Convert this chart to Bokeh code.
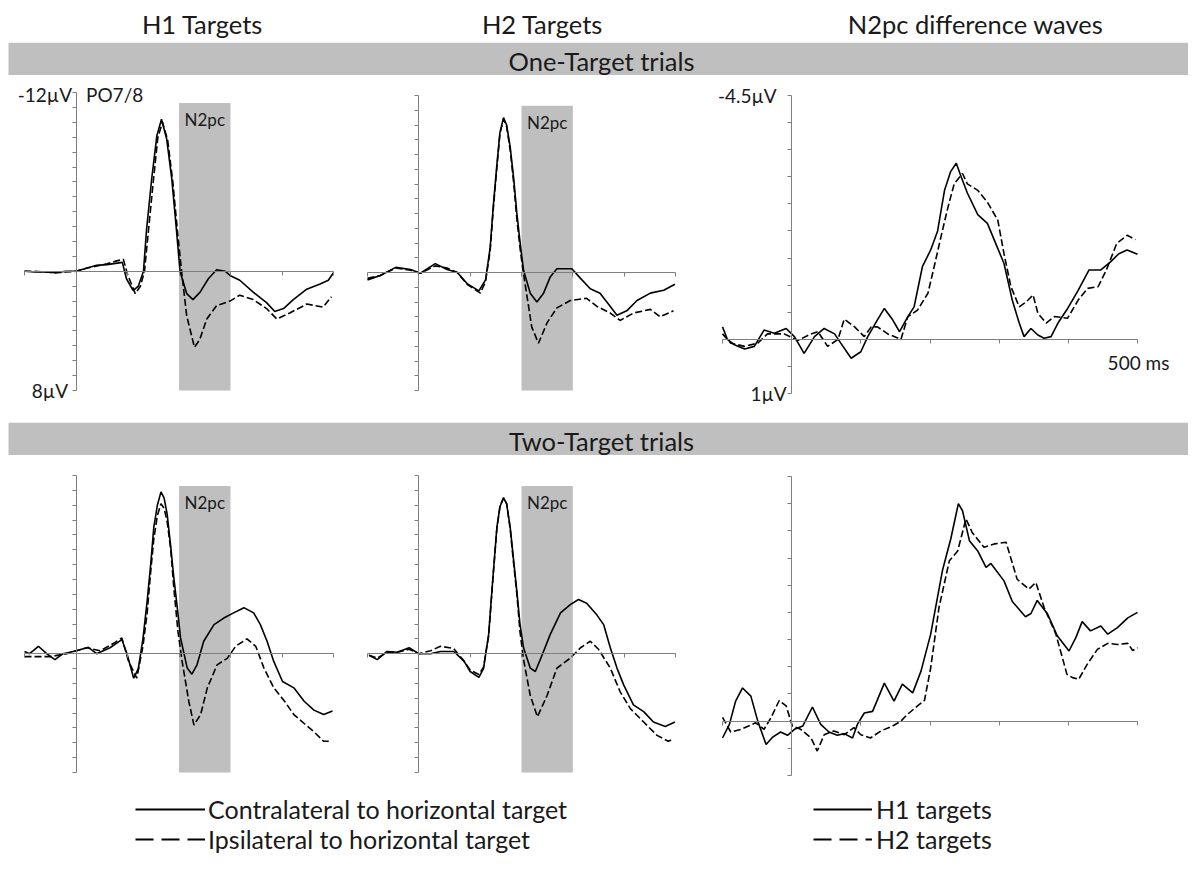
from bokeh.plotting import figure
from bokeh.layouts import column, row
from bokeh.models import Range1d, FixedTicker, Label, Legend, LegendItem
from bokeh.embed import file_html
from bokeh.resources import INLINE
from bokeh.core.properties import value

FONT = "Lato"
SHADE = "#BFBFBF"
AXIS = "#7F7F7F"
TXT = "#1A1A1A"
NAN = float("nan")

col_titles = ["H1 Targets", "H2 Targets", "N2pc difference waves"]
row_titles = ["One-Target trials", "Two-Target trials"]
legend_erp = ["Contralateral to horizontal target", "Ipsilateral to horizontal target"]
legend_diff = ["H1 targets", "H2 targets"]

time_limits = (-100, 500)
x_ticks = [-100, 0, 100, 200, 300, 400, 500]
erp_limits = (-12, 8)
erp_yticks = list(range(-12, 9))
diff_limits = (-4.5, 1)
diff_yticks = [-4.5, -4.0, -3.5, -3.0, -2.5, -2.0, -1.5, -1.0, -0.5, 0.0, 0.5, 1.0]
n2pc_window = [200, 300]
n2pc_extent = [-11.3, 8]

# ---- One-target, H1 targets (PO7/8) ----
t_h1_one_contra = [-100,-80,-60,-40,-20,0,20,40,60,80,90,98,111,121,131,137,147,157,166,176,186,195,202,215,227,241,257,273,290,300,318,344,370,386,403,422,448,474,490,500]
v_h1_one_contra = [0.0,0.05,0.05,0.1,0.0,0.0,-0.2,-0.4,-0.45,-0.55,-0.6,0.5,1.3,1.0,0.0,-2.8,-6.2,-9.1,-10.2,-8.9,-6.2,-2.8,0.0,1.5,1.9,1.4,0.5,-0.1,0.0,0.3,0.6,1.4,2.1,2.7,2.5,1.9,1.2,0.85,0.6,0.1]
t_h1_one_ipsi = [-100,-80,-60,-40,-20,0,20,40,60,79,92,100,115,125,133,140,150,159,168,178,188,197,205,215,230,240,254,273,299,318,344,370,390,415,448,480,496]
v_h1_one_ipsi = [0.0,0.0,0.05,0.1,0.05,0.0,-0.2,-0.35,-0.5,-0.7,-0.8,0.2,1.5,1.0,0.0,-2.5,-6.0,-9.0,-10.0,-8.8,-6.0,-2.7,0.0,3.0,5.1,4.6,3.2,2.3,2.0,1.6,1.9,2.5,3.2,2.8,2.2,2.4,1.7]

# ---- One-target, H2 targets ----
t_h2_one_contra = [-100,-75,-45,-16,3,32,55,75,94,117,130,139,145,152,158,165,171,178,185,191,198,204,217,230,243,256,269,298,315,334,353,373,386,405,425,451,477,499]
v_h2_one_contra = [0.5,0.2,-0.35,-0.2,0.05,-0.6,-0.2,0.0,0.75,1.25,0.5,-1.7,-4.5,-7.3,-9.5,-10.5,-10.0,-8.5,-6.3,-4.0,-1.8,-0.15,1.4,2.0,1.4,0.3,-0.25,-0.25,0.4,1.1,1.4,2.3,2.9,2.6,1.9,1.4,1.2,0.8]
t_h2_one_ipsi = [-100,-75,-45,-16,3,32,55,75,94,120,130,139,145,152,158,165,171,178,185,191,198,204,220,233,250,269,295,327,347,373,392,418,451,470,496]
v_h2_one_ipsi = [0.4,0.2,-0.3,-0.15,0.05,-0.45,-0.3,0.0,0.8,1.4,0.6,-1.5,-4.3,-7.1,-9.4,-10.4,-9.9,-8.3,-6.0,-3.6,-1.4,0.1,3.7,4.8,3.4,2.4,1.9,1.75,2.3,2.75,3.25,2.75,2.5,3.0,2.6]

# ---- One-target, N2pc difference waves ----
t_diff_one_h1 = [-100,-93,-83,-68,-54,-40,-25,-8,4,18,33,47,62,71,86,100,110,124,134,146,156,168,177,189,201,211,221,230,238,245,254,269,283,293,307,319,329,336,346,356,365,375,385,399,414,430,447,461,473,485,500]
v_diff_one_h1 = [-0.23,0.0,0.1,0.18,0.13,-0.17,-0.11,-0.2,-0.05,0.26,-0.05,-0.2,-0.1,0.07,0.35,0.23,-0.05,-0.36,-0.57,-0.36,-0.14,-0.42,-0.6,-1.34,-1.65,-2.0,-2.75,-3.1,-3.25,-3.0,-2.7,-2.3,-2.14,-1.83,-1.4,-0.72,-0.3,-0.05,-0.2,-0.08,-0.02,-0.05,-0.3,-0.57,-0.9,-1.28,-1.28,-1.43,-1.58,-1.65,-1.57]
t_diff_one_h2 = [-100,-88,-68,-49,-35,-11,9,28,38,52,67,76,91,105,115,124,139,158,168,182,197,206,216,226,235,247,254,269,283,298,307,317,329,339,349,356,368,380,399,414,428,443,455,470,485,497]
v_diff_one_h2 = [-0.1,0.07,0.13,0.07,-0.1,-0.1,0.02,-0.1,-0.14,0.13,0.0,-0.37,-0.23,-0.05,-0.23,-0.23,-0.1,0.0,-0.42,-0.54,-0.85,-1.34,-1.9,-2.44,-2.87,-3.06,-2.87,-2.75,-2.53,-2.2,-1.58,-0.97,-0.6,-0.69,-0.82,-0.48,-0.3,-0.42,-0.39,-0.72,-0.94,-0.97,-1.28,-1.77,-1.92,-1.84]

# ---- Two-target, H1 targets ----
t_h1_two_contra = [-100,-90,-73,-57,-41,-25,1,24,40,66,89,99,112,121,130,138,145,151,158,165,171,177,184,190,197,203,216,225,235,248,268,287,306,326,345,358,371,384,401,423,443,462,481,498]
v_h1_two_contra = [-0.15,0.0,-0.5,0.0,0.4,0.0,-0.2,-0.43,0.0,-0.4,-0.95,0.0,1.65,1.0,-1.0,-3.5,-6.0,-8.5,-10.0,-10.9,-10.5,-9.4,-7.2,-5.1,-3.0,-1.06,0.97,1.38,0.75,-0.84,-1.96,-2.4,-2.75,-3.1,-2.75,-1.96,-0.84,0.52,1.87,2.3,3.2,3.8,4.1,3.86]
t_h1_two_ipsi = [-100,-83,-51,-18,21,47,73,89,102,118,130,138,145,151,158,165,171,177,184,190,198,206,219,229,242,255,274,294,310,332,349,365,384,405,423,443,462,481,494]
v_h1_two_ipsi = [0.2,0.2,0.2,0.0,-0.4,-0.2,-0.7,-1.06,0.5,1.65,-0.5,-2.7,-5.5,-7.7,-9.3,-10.1,-9.8,-8.9,-7.0,-4.4,-1.5,0.5,3.2,4.8,4.1,2.3,0.75,0.3,-0.5,-1.0,-0.5,0.97,2.3,3.2,4.1,4.7,5.26,5.9,5.9]

# ---- Two-target, H2 targets ----
t_h2_two_contra = [-97,-81,-62,-42,-19,0,23,42,68,88,100,117,126,136,144,152,158,165,171,178,184,191,197,204,217,227,240,256,276,295,311,327,347,360,373,386,399,418,438,457,480,499]
v_h2_two_contra = [0.1,0.4,-0.15,-0.1,-0.4,0.0,0.0,-0.15,-0.15,0.5,1.2,1.6,1.0,-1.3,-5.0,-8.5,-9.9,-10.5,-10.1,-8.5,-6.5,-4.2,-2.0,-0.4,0.97,1.2,0.1,-1.3,-2.75,-3.3,-3.65,-3.4,-2.6,-1.96,-0.4,0.97,2.1,3.45,3.9,4.6,4.9,4.6]
t_h2_two_ipsi = [-97,-81,-62,-42,-19,0,23,42,68,88,100,117,126,136,144,152,158,165,171,178,184,191,197,204,217,231,250,269,295,315,334,350,373,392,412,438,464,486,496]
v_h2_two_ipsi = [0.1,0.3,-0.1,-0.1,-0.3,0.0,-0.2,-0.5,-0.35,0.5,1.1,1.4,0.9,-1.2,-4.9,-8.4,-9.9,-10.5,-10.1,-8.4,-6.3,-4.0,-1.5,0.4,2.8,4.25,2.8,0.97,0.3,-0.4,-0.84,-0.3,0.97,2.55,3.7,4.6,5.5,5.9,5.75]

# ---- Two-target, N2pc difference waves ----
t_diff_two_h1 = [-100,-90,-81,-71,-59,-49,-37,-28,-16,-6,4,16,30,42,54,66,76,88,95,105,117,134,148,160,175,187,201,218,230,241,247,257,269,281,288,307,319,338,346,355,370,384,401,411,420,432,447,457,471,486,500]
v_diff_two_h1 = [0.31,0.06,-0.37,-0.61,-0.46,0.0,0.43,0.3,0.2,0.26,0.15,0.09,-0.26,0.06,0.2,0.26,0.23,0.31,0.06,-0.15,-0.18,-0.7,-0.37,-0.68,-0.52,-0.92,-1.6,-2.77,-3.35,-4.0,-3.87,-3.32,-3.13,-2.83,-2.9,-2.58,-2.2,-1.92,-1.98,-2.22,-1.97,-1.57,-1.29,-1.54,-1.83,-1.66,-1.75,-1.6,-1.72,-1.9,-2.0]
t_diff_two_h2 = [-100,-88,-73,-52,-40,-30,-18,-8,1,13,28,37,47,61,76,90,100,114,129,146,158,167,182,192,201,213,228,240,252,261,278,293,310,326,343,353,365,382,398,406,415,427,442,457,471,486,493,500]
v_diff_two_h2 = [-0.07,0.2,0.15,0.03,0.15,-0.06,-0.38,-0.28,0.09,0.15,0.31,0.55,0.25,0.18,0.25,0.12,0.25,0.31,0.18,0.09,0.0,-0.12,-0.28,-0.38,-0.98,-2.09,-2.95,-3.13,-3.72,-3.47,-3.2,-3.26,-3.29,-2.61,-2.43,-2.55,-2.09,-1.6,-0.86,-0.8,-0.77,-1.04,-1.32,-1.43,-1.41,-1.43,-1.3,-1.35]


def x_range_for(lims, px0, px1, total):
    """Range whose lims land on pixels px0..px1 of a frame `total` px wide."""
    lo, hi = lims
    s = (px1 - px0) / (hi - lo)
    return Range1d(lo - px0 / s, hi + (total - px1) / s)


def y_range_for(lims, px_top, px_bot, total):
    """Inverted (negative-up) range: lims[0] at px_top, lims[1] at px_bot (from top)."""
    top, bot = lims
    s = (px_bot - px_top) / (bot - top)
    return Range1d(bot + (total - px_bot) / s, top - px_top / s)


def style_axes(p, ylims, yticks):
    p.xaxis.fixed_location = 0
    p.yaxis.fixed_location = 0
    p.xaxis.bounds = time_limits
    p.yaxis.bounds = (min(ylims), max(ylims))
    p.xaxis.ticker = FixedTicker(ticks=x_ticks, minor_ticks=[])
    p.yaxis.ticker = FixedTicker(ticks=yticks, minor_ticks=[])
    for ax in (p.xaxis, p.yaxis):
        ax.axis_line_color = AXIS
        ax.axis_line_width = 1
        ax.major_tick_line_color = AXIS
        ax.major_tick_in = 0
        ax.major_tick_out = 4
        ax.minor_tick_line_color = None
        ax.major_label_text_font_size = "0px"
        ax.major_label_text_alpha = 0


def add_label(p, x, y, text, dx, dy, align):
    p.add_layout(Label(x=x, y=y, x_offset=dx, y_offset=dy, text=text,
                       text_align=align, text_baseline="middle",
                       text_font=FONT, text_font_size="19px", text_color=TXT))


def make_panel(w, h, box, ylims, yticks, t_solid, v_solid, t_dash, v_dash, shade):
    px0, px1, py0, py1 = box
    p = figure(width=w, height=h,
               x_range=x_range_for(time_limits, px0, px1, w),
               y_range=y_range_for(ylims, py0, py1, h),
               toolbar_location=None, output_backend="svg", min_border=0)
    p.outline_line_color = None
    p.grid.visible = False
    p.background_fill_color = "white"
    p.border_fill_color = "white"
    if shade:
        p.quad(left=[n2pc_window[0]], right=[n2pc_window[1]],
               top=[n2pc_extent[0]], bottom=[n2pc_extent[1]],
               fill_color=SHADE, line_color=None)
        p.add_layout(Label(x=sum(n2pc_window) / 2, y=n2pc_extent[0], y_offset=-17,
                           text="N2pc", text_align="center", text_baseline="middle",
                           text_font=FONT, text_font_size="17px",
                           text_color=TXT))
    p.line(t_solid, v_solid, line_color="black", line_width=1.6)
    p.line(t_dash, v_dash, line_color="black", line_width=1.6, line_dash="7 3")
    style_axes(p, ylims, yticks)
    return p


# top row (figure tops at y=75)
p1 = make_panel(350, 347, (24, 333, 17, 315), erp_limits, erp_yticks,
                t_h1_one_contra, v_h1_one_contra, t_h1_one_ipsi, v_h1_one_ipsi, True)
add_label(p1, 0, -12, "-12\u00b5V", -4, -2, "right")
add_label(p1, 0, 8, "8\u00b5V", -8, 0, "right")
add_label(p1, 0, -12, "PO7/8", 10, -2, "left")
p2 = make_panel(350, 347, (17, 325, 20, 315), erp_limits, erp_yticks,
                t_h2_one_contra, v_h2_one_contra, t_h2_one_ipsi, v_h2_one_ipsi, True)
p3 = make_panel(488, 347, (22, 437, 20, 318), diff_limits, diff_yticks,
                t_diff_one_h1, v_diff_one_h1, t_diff_one_h2, v_diff_one_h2, False)
add_label(p3, 0, -4.5, "-4.5\u00b5V", -15, 0, "right")
add_label(p3, 0, 1, "1\u00b5V", -5, 0, "right")
add_label(p3, 500, 0, "500 ms", 1, -23, "center")

# bottom row (figure tops at y=455)
p4 = make_panel(350, 340, (24, 333, 20, 317), erp_limits, erp_yticks,
                t_h1_two_contra, v_h1_two_contra, t_h1_two_ipsi, v_h1_two_ipsi, True)
p5 = make_panel(350, 340, (17, 325, 20, 317), erp_limits, erp_yticks,
                t_h2_two_contra, v_h2_two_contra, t_h2_two_ipsi, v_h2_two_ipsi, True)
p6 = make_panel(488, 340, (22, 437, 21, 320), diff_limits, diff_yticks,
                t_diff_two_h1, v_diff_two_h1, t_diff_two_h2, v_diff_two_h2, False)


def blank(w, h, yflip=True):
    p = figure(width=w, height=h, x_range=Range1d(0, w),
               y_range=Range1d(h, 0) if yflip else Range1d(0, h),
               toolbar_location=None, output_backend="svg",
               x_axis_location=None, y_axis_location=None,
               min_border=0)
    p.outline_line_color = None
    p.grid.visible = False
    p.background_fill_color = "white"
    p.border_fill_color = "white"
    return p


W = 1188
header = blank(W, 42)
header.text(x=[202, 542, 975], y=[23, 23, 23], text=col_titles,
            text_align="center", text_baseline="middle",
            text_font=value(FONT), text_font_size="25.5px", text_color=TXT)


def banner(title):
    b = blank(W, 33)
    b.quad(left=[8], right=[W], top=[0], bottom=[33], fill_color=SHADE, line_color=None)
    b.text(x=[601], y=[18], text=[title], text_align="center",
           text_baseline="middle", text_font=value(FONT),
           text_font_size="25.5px", text_color=TXT)
    return b


banner1 = banner(row_titles[0])
banner2 = banner(row_titles[1])

leg = blank(W, 63, yflip=False)
r_solid = leg.line([NAN], [NAN], line_color="black", line_width=2)
r_dash = leg.line([NAN], [NAN], line_color="black", line_width=2, line_dash="18 8")
r_solid2 = leg.line([NAN], [NAN], line_color="black", line_width=2)
r_dash2 = leg.line([NAN], [NAN], line_color="black", line_width=2, line_dash="18 8")


def make_legend(items, loc, gw, standoff):
    return Legend(items=items, location=loc, orientation="vertical",
                  glyph_width=gw, glyph_height=24, label_height=24,
                  label_standoff=standoff, spacing=-2, padding=0, margin=0,
                  border_line_color=None, background_fill_alpha=0,
                  label_text_font=FONT, label_text_font_size="25px",
                  label_text_color=TXT)


leg.add_layout(make_legend([LegendItem(label=legend_erp[0], renderers=[r_solid]),
                            LegendItem(label=legend_erp[1], renderers=[r_dash])],
                           (135, 4), 70, 3))
leg.add_layout(make_legend([LegendItem(label=legend_diff[0], renderers=[r_solid2]),
                            LegendItem(label=legend_diff[1], renderers=[r_dash2])],
                           (813, 4), 59, 4))

layout = column(header, banner1, row(p1, p2, p3, spacing=0), banner2,
                row(p4, p5, p6, spacing=0), leg, spacing=0)

open("out.html", "w").write(file_html(layout, INLINE))
